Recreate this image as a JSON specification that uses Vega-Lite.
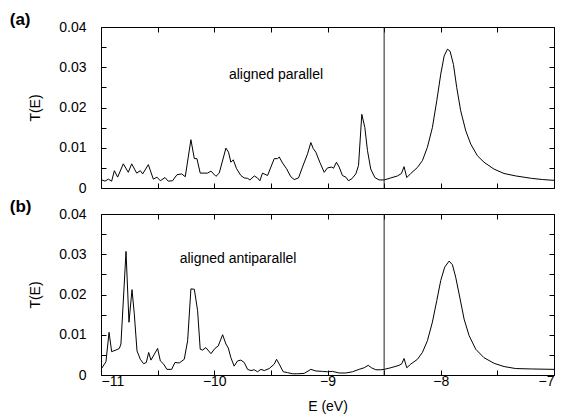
{
 "$schema": "https://vega.github.io/schema/vega-lite/v6.json",
 "padding": {"left": 9, "top": 10, "right": 0, "bottom": 0},
 "background": "white",
 "datasets": {
  "a": [
   {"E": -11.0, "T": 0.0021}, {"E": -10.965, "T": 0.0017}, {"E": -10.935, "T": 0.0022}, {"E": -10.906, "T": 0.0017},
   {"E": -10.882, "T": 0.0043}, {"E": -10.853, "T": 0.0027}, {"E": -10.803, "T": 0.006}, {"E": -10.759, "T": 0.0039},
   {"E": -10.729, "T": 0.006}, {"E": -10.685, "T": 0.0037}, {"E": -10.653, "T": 0.0043}, {"E": -10.632, "T": 0.0035},
   {"E": -10.582, "T": 0.0058}, {"E": -10.538, "T": 0.0022}, {"E": -10.506, "T": 0.0027}, {"E": -10.476, "T": 0.0018},
   {"E": -10.435, "T": 0.0026}, {"E": -10.406, "T": 0.0017}, {"E": -10.368, "T": 0.0018}, {"E": -10.329, "T": 0.0033},
   {"E": -10.288, "T": 0.0035}, {"E": -10.256, "T": 0.0028}, {"E": -10.206, "T": 0.012}, {"E": -10.176, "T": 0.0073},
   {"E": -10.153, "T": 0.0073}, {"E": -10.124, "T": 0.0037}, {"E": -10.059, "T": 0.0037}, {"E": -10.029, "T": 0.0042},
   {"E": -9.985, "T": 0.0029}, {"E": -9.956, "T": 0.0037}, {"E": -9.897, "T": 0.0099}, {"E": -9.874, "T": 0.0089},
   {"E": -9.853, "T": 0.0064}, {"E": -9.832, "T": 0.007}, {"E": -9.803, "T": 0.0048}, {"E": -9.765, "T": 0.0031},
   {"E": -9.735, "T": 0.0025}, {"E": -9.706, "T": 0.0024}, {"E": -9.685, "T": 0.002}, {"E": -9.647, "T": 0.003},
   {"E": -9.618, "T": 0.0025}, {"E": -9.597, "T": 0.0018}, {"E": -9.574, "T": 0.0037}, {"E": -9.529, "T": 0.0031},
   {"E": -9.5, "T": 0.0052}, {"E": -9.47, "T": 0.0073}, {"E": -9.441, "T": 0.0073}, {"E": -9.426, "T": 0.0077},
   {"E": -9.397, "T": 0.0062}, {"E": -9.362, "T": 0.0048}, {"E": -9.324, "T": 0.0028}, {"E": -9.294, "T": 0.0021},
   {"E": -9.256, "T": 0.0025}, {"E": -9.221, "T": 0.0052}, {"E": -9.176, "T": 0.0085}, {"E": -9.147, "T": 0.0113},
   {"E": -9.126, "T": 0.0098}, {"E": -9.103, "T": 0.0089}, {"E": -9.068, "T": 0.0064}, {"E": -9.029, "T": 0.0039},
   {"E": -9.0, "T": 0.005}, {"E": -8.962, "T": 0.0052}, {"E": -8.947, "T": 0.0049}, {"E": -8.921, "T": 0.0064},
   {"E": -8.897, "T": 0.0052}, {"E": -8.868, "T": 0.0031}, {"E": -8.838, "T": 0.0027}, {"E": -8.815, "T": 0.0018},
   {"E": -8.785, "T": 0.0023}, {"E": -8.75, "T": 0.0035}, {"E": -8.726, "T": 0.0056}, {"E": -8.697, "T": 0.0183},
   {"E": -8.67, "T": 0.015}, {"E": -8.647, "T": 0.0093}, {"E": -8.618, "T": 0.0047}, {"E": -8.582, "T": 0.0026},
   {"E": -8.544, "T": 0.002}, {"E": -8.5, "T": 0.002}, {"E": -8.441, "T": 0.0025}, {"E": -8.382, "T": 0.003},
   {"E": -8.347, "T": 0.0036}, {"E": -8.324, "T": 0.0053}, {"E": -8.3, "T": 0.0026}, {"E": -8.265, "T": 0.0036},
   {"E": -8.206, "T": 0.0051}, {"E": -8.162, "T": 0.0068}, {"E": -8.118, "T": 0.0101}, {"E": -8.074, "T": 0.015},
   {"E": -8.035, "T": 0.0217}, {"E": -8.0, "T": 0.0283}, {"E": -7.97, "T": 0.0328}, {"E": -7.941, "T": 0.0345},
   {"E": -7.918, "T": 0.034}, {"E": -7.888, "T": 0.0307}, {"E": -7.859, "T": 0.025}, {"E": -7.824, "T": 0.0192},
   {"E": -7.779, "T": 0.0142}, {"E": -7.735, "T": 0.0109}, {"E": -7.676, "T": 0.008}, {"E": -7.618, "T": 0.0064},
   {"E": -7.53, "T": 0.0047}, {"E": -7.441, "T": 0.0036}, {"E": -7.338, "T": 0.003}, {"E": -7.2, "T": 0.0024},
   {"E": -7.1, "T": 0.0021}, {"E": -7.0, "T": 0.0019}
  ],
  "b": [
   {"E": -11.0, "T": 0.0014}, {"E": -10.956, "T": 0.0033}, {"E": -10.929, "T": 0.0106}, {"E": -10.906, "T": 0.0058},
   {"E": -10.868, "T": 0.0062}, {"E": -10.838, "T": 0.0066}, {"E": -10.824, "T": 0.0077}, {"E": -10.779, "T": 0.0307},
   {"E": -10.753, "T": 0.0131}, {"E": -10.726, "T": 0.0212}, {"E": -10.706, "T": 0.0152}, {"E": -10.682, "T": 0.006},
   {"E": -10.653, "T": 0.0039}, {"E": -10.624, "T": 0.0028}, {"E": -10.6, "T": 0.0031}, {"E": -10.579, "T": 0.0056},
   {"E": -10.559, "T": 0.0037}, {"E": -10.5, "T": 0.0066}, {"E": -10.476, "T": 0.0035}, {"E": -10.447, "T": 0.0027},
   {"E": -10.418, "T": 0.0014}, {"E": -10.376, "T": 0.0014}, {"E": -10.347, "T": 0.0031}, {"E": -10.309, "T": 0.003},
   {"E": -10.265, "T": 0.0039}, {"E": -10.235, "T": 0.0085}, {"E": -10.206, "T": 0.0214}, {"E": -10.176, "T": 0.0213},
   {"E": -10.147, "T": 0.016}, {"E": -10.124, "T": 0.0064}, {"E": -10.103, "T": 0.0062}, {"E": -10.074, "T": 0.0068},
   {"E": -10.029, "T": 0.0053}, {"E": -9.994, "T": 0.0066}, {"E": -9.965, "T": 0.0072}, {"E": -9.926, "T": 0.01},
   {"E": -9.897, "T": 0.0077}, {"E": -9.876, "T": 0.0067}, {"E": -9.853, "T": 0.0043}, {"E": -9.824, "T": 0.0022},
   {"E": -9.794, "T": 0.0035}, {"E": -9.765, "T": 0.0037}, {"E": -9.735, "T": 0.0031}, {"E": -9.706, "T": 0.0014},
   {"E": -9.676, "T": 0.0011}, {"E": -9.647, "T": 0.0013}, {"E": -9.618, "T": 0.0008}, {"E": -9.588, "T": 0.0014},
   {"E": -9.559, "T": 0.0011}, {"E": -9.515, "T": 0.0016}, {"E": -9.47, "T": 0.0027}, {"E": -9.45, "T": 0.0039},
   {"E": -9.426, "T": 0.0027}, {"E": -9.391, "T": 0.0008}, {"E": -9.353, "T": 0.0006}, {"E": -9.309, "T": 0.0003},
   {"E": -9.265, "T": 0.0003}, {"E": -9.206, "T": 0.0004}, {"E": -9.147, "T": 0.0014}, {"E": -9.103, "T": 0.001},
   {"E": -9.044, "T": 0.0009}, {"E": -9.0, "T": 0.0008}, {"E": -8.956, "T": 0.0009}, {"E": -8.897, "T": 0.0005},
   {"E": -8.838, "T": 0.0005}, {"E": -8.779, "T": 0.0008}, {"E": -8.721, "T": 0.0014}, {"E": -8.676, "T": 0.0018},
   {"E": -8.641, "T": 0.0024}, {"E": -8.612, "T": 0.0018}, {"E": -8.574, "T": 0.0013}, {"E": -8.529, "T": 0.0013},
   {"E": -8.5, "T": 0.0014}, {"E": -8.441, "T": 0.0018}, {"E": -8.368, "T": 0.0024}, {"E": -8.344, "T": 0.0028},
   {"E": -8.324, "T": 0.0041}, {"E": -8.3, "T": 0.0018}, {"E": -8.265, "T": 0.0027}, {"E": -8.206, "T": 0.0039},
   {"E": -8.162, "T": 0.0056}, {"E": -8.118, "T": 0.0085}, {"E": -8.074, "T": 0.0131}, {"E": -8.035, "T": 0.0185},
   {"E": -8.0, "T": 0.0235}, {"E": -7.965, "T": 0.0268}, {"E": -7.926, "T": 0.0283}, {"E": -7.897, "T": 0.0274},
   {"E": -7.868, "T": 0.0243}, {"E": -7.829, "T": 0.0189}, {"E": -7.794, "T": 0.0139}, {"E": -7.75, "T": 0.0098},
   {"E": -7.691, "T": 0.0064}, {"E": -7.618, "T": 0.0043}, {"E": -7.529, "T": 0.0029}, {"E": -7.441, "T": 0.0021},
   {"E": -7.338, "T": 0.0016}, {"E": -7.2, "T": 0.0015}, {"E": -7.0, "T": 0.0014}
  ],
  "fermi": [{"E": -8.5}],
  "noteA": [{"E": -9.455, "T": 0.028, "label": "aligned parallel"}],
  "noteB": [{"E": -9.79, "T": 0.0289, "label": "aligned antiparallel"}]
 },
 "config": {
  "font": "Liberation Sans",
  "view": {"stroke": "#000", "strokeWidth": 1},
  "axis": {
   "grid": false, "domain": false, "tickColor": "#000", "tickSize": -5, "tickWidth": 1,
   "labelFont": "Liberation Sans", "labelFontSize": 14, "labelColor": "#000",
   "titleFont": "Liberation Sans", "titleFontSize": 14, "titleFontWeight": "normal", "titleColor": "#000"
  },
  "title": {"font": "Liberation Sans", "fontSize": 17, "fontWeight": "bold", "anchor": "start", "dx": -19, "offset": -9, "color": "#000"}
 },
 "spacing": 1,
 "vconcat": [
  {
   "width": 453, "height": 161,
   "title": {"text": "(a)"},
   "layer": [
    {
     "data": {"name": "a"},
     "mark": {"type": "line", "color": "#000", "strokeWidth": 1, "clip": true},
     "encoding": {
      "x": {"field": "E", "type": "quantitative", "scale": {"domain": [-11, -7], "nice": false},
            "axis": {"orient": "bottom", "values": [-11, -10.5, -10, -9.5, -9, -8.5, -8, -7.5, -7], "labels": false, "title": null}},
      "y": {"field": "T", "type": "quantitative", "scale": {"domain": [0, 0.04], "nice": false},
            "axis": {"orient": "left", "values": [0, 0.005, 0.01, 0.015, 0.02, 0.025, 0.03, 0.035, 0.04],
                     "labelExpr": "round(datum.value*200) % 2 == 0 ? format(datum.value, '~g') : ''",
                     "labelPadding": 20, "title": "T(E)", "titlePadding": 16}}
     }
    },
    {
     "data": {"name": "fermi"},
     "mark": {"type": "rule", "color": "#222", "strokeWidth": 1},
     "encoding": {
      "x": {"field": "E", "type": "quantitative",
            "axis": {"orient": "top", "values": [-11, -10.5, -10, -9.5, -9, -8.5, -8, -7.5, -7], "labels": false, "title": null}},
      "y": {"datum": 0, "type": "quantitative",
            "axis": {"orient": "right", "values": [0, 0.005, 0.01, 0.015, 0.02, 0.025, 0.03, 0.035, 0.04], "labels": false, "title": null}},
      "y2": {"datum": 0.04}
     }
    },
    {
     "data": {"name": "noteA"},
     "mark": {"type": "text", "font": "Liberation Sans", "fontSize": 14, "baseline": "middle", "align": "center", "color": "#000"},
     "encoding": {
      "x": {"field": "E", "type": "quantitative", "axis": null},
      "y": {"field": "T", "type": "quantitative", "axis": null},
      "text": {"field": "label"}
     }
    }
   ]
  },
  {
   "width": 453, "height": 161,
   "title": {"text": "(b)"},
   "layer": [
    {
     "data": {"name": "b"},
     "mark": {"type": "line", "color": "#000", "strokeWidth": 1, "clip": true},
     "encoding": {
      "x": {"field": "E", "type": "quantitative", "scale": {"domain": [-11, -7], "nice": false},
            "axis": {"orient": "bottom", "values": [-11, -10.5, -10, -9.5, -9, -8.5, -8, -7.5, -7],
                     "labelExpr": "datum.value % 1 == 0 ? format(datum.value, 'd') : ''",
                     "labelPadding": 4, "title": "E (eV)", "titlePadding": 11}},
      "y": {"field": "T", "type": "quantitative", "scale": {"domain": [0, 0.04], "nice": false},
            "axis": {"orient": "left", "values": [0, 0.005, 0.01, 0.015, 0.02, 0.025, 0.03, 0.035, 0.04],
                     "labelExpr": "round(datum.value*200) % 2 == 0 ? format(datum.value, '~g') : ''",
                     "labelPadding": 20, "title": "T(E)", "titlePadding": 16}}
     }
    },
    {
     "data": {"name": "fermi"},
     "mark": {"type": "rule", "color": "#222", "strokeWidth": 1},
     "encoding": {
      "x": {"field": "E", "type": "quantitative",
            "axis": {"orient": "top", "values": [-11, -10.5, -10, -9.5, -9, -8.5, -8, -7.5, -7], "labels": false, "title": null}},
      "y": {"datum": 0, "type": "quantitative",
            "axis": {"orient": "right", "values": [0, 0.005, 0.01, 0.015, 0.02, 0.025, 0.03, 0.035, 0.04], "labels": false, "title": null}},
      "y2": {"datum": 0.04}
     }
    },
    {
     "data": {"name": "noteB"},
     "mark": {"type": "text", "font": "Liberation Sans", "fontSize": 14, "baseline": "middle", "align": "center", "color": "#000"},
     "encoding": {
      "x": {"field": "E", "type": "quantitative", "axis": null},
      "y": {"field": "T", "type": "quantitative", "axis": null},
      "text": {"field": "label"}
     }
    }
   ]
  }
 ]
}
